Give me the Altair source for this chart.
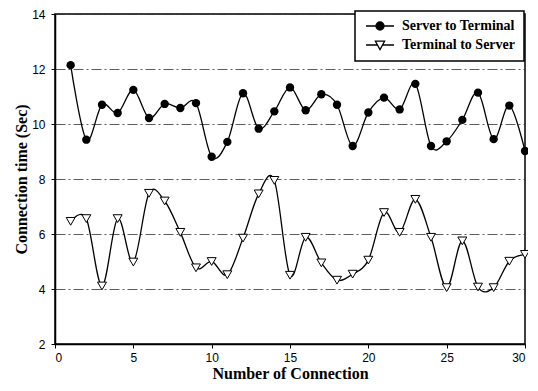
import altair as alt
import pandas as pd

connection = list(range(1, 31))
server_to_terminal = [12.14, 9.43, 10.70, 10.40, 11.24, 10.22, 10.73, 10.58, 10.76, 8.81,
                      9.35, 11.12, 9.83, 10.46, 11.33, 10.50, 11.08, 10.70, 9.20, 10.42,
                      10.96, 10.53, 11.46, 9.20, 9.37, 10.15, 11.14, 9.45, 10.67, 9.02]
terminal_to_server = [6.46, 6.56, 4.11, 6.56, 4.98, 7.48, 7.20, 6.06, 4.77, 5.00,
                      4.52, 5.85, 7.46, 7.95, 4.50, 5.88, 4.95, 4.32, 4.54, 5.05,
                      6.78, 6.06, 7.26, 5.88, 4.05, 5.75, 4.07, 4.05, 5.01, 5.26]
series_names = ["Server to Terminal", "Terminal to Server"]
x_ticks = [0, 5, 10, 15, 20, 25, 30]
y_ticks = [2, 4, 6, 8, 10, 12, 14]

df = pd.DataFrame({
    "Connection": connection * 2,
    "Time": server_to_terminal + terminal_to_server,
    "Series": [series_names[0]] * len(connection) + [series_names[1]] * len(connection),
})

# legend symbols: line with marker
circle_path = "M-3.5,0H-1M1,0H3.5M-1,0A1,1 0 1,0 1,0A1,1 0 1,0 -1,0Z"
tri_path = "M-3.5,0H-0.6M0.6,0H3.5M-1.15,-0.95L1.15,-0.95L0,1.15Z"

x_enc = alt.X("Connection:Q",
              scale=alt.Scale(domain=[0, 30], nice=False),
              axis=alt.Axis(values=x_ticks, grid=False, title="Number of Connection",
                            titlePadding=2, labelPadding=4))
y_enc = alt.Y("Time:Q",
              scale=alt.Scale(domain=[2, 14], nice=False),
              axis=alt.Axis(values=y_ticks, grid=True, title="Connection time (Sec)",
                            titlePadding=2, labelPadding=6,
                            gridDash=[10, 3, 2, 3], gridColor="#333333", gridWidth=0.8))

base = alt.Chart(df)

lines = base.mark_line(interpolate="cardinal", tension=0, color="black", strokeWidth=1.3).encode(
    x=x_enc, y=y_enc, detail="Series:N"
)

pts_server = base.transform_filter(alt.datum.Series == series_names[0]).mark_point(
    shape="circle", filled=True, color="black", size=70, opacity=1
).encode(x=x_enc, y=y_enc)

pts_terminal = base.transform_filter(alt.datum.Series == series_names[1]).mark_point(
    shape="triangle-down", filled=True, fill="white", stroke="black", strokeWidth=1,
    size=80, opacity=1
).encode(x=x_enc, y=y_enc)

legend_layer = base.transform_filter(alt.datum.Connection < 0).mark_point(
    filled=True, size=64, opacity=1, strokeWidth=1.3
).encode(
    x=x_enc, y=y_enc,
    shape=alt.Shape("Series:N",
                    scale=alt.Scale(domain=series_names, range=[circle_path, tri_path]),
                    legend=alt.Legend(title=None)),
    fill=alt.Fill("Series:N",
                  scale=alt.Scale(domain=series_names, range=["black", "white"]),
                  legend=alt.Legend(title=None)),
    stroke=alt.Stroke("Series:N",
                      scale=alt.Scale(domain=series_names, range=["black", "black"]),
                      legend=alt.Legend(title=None)),
)

chart = alt.layer(lines, pts_server, pts_terminal, legend_layer).properties(
    width=470, height=330,
    autosize=alt.AutoSizeParams(type="none"),
    padding={"left": 47, "top": 6, "right": 3, "bottom": 39},
).configure_view(
    stroke="black", strokeWidth=1.5
).configure_axis(
    domainColor="black", domainWidth=1.5, tickColor="black", tickSize=4,
    labelFont="Liberation Sans", labelFontSize=12, labelColor="black",
    titleFont="Liberation Serif", titleFontSize=16, titleFontWeight="bold", titleColor="black",
).configure_legend(
    orient="none", legendX=300, legendY=-3,
    padding=8, strokeColor="black", fillColor="white", strokeWidth=1.5,
    labelFont="Liberation Serif", labelFontWeight="bold", labelFontSize=14, labelColor="black",
    rowPadding=5, symbolSize=64, symbolOffset=10, labelOffset=15,
    symbolStrokeWidth=1.3, symbolStrokeColor="black",
)

chart.save("out.html", embed_options={"renderer": "svg", "actions": False})
